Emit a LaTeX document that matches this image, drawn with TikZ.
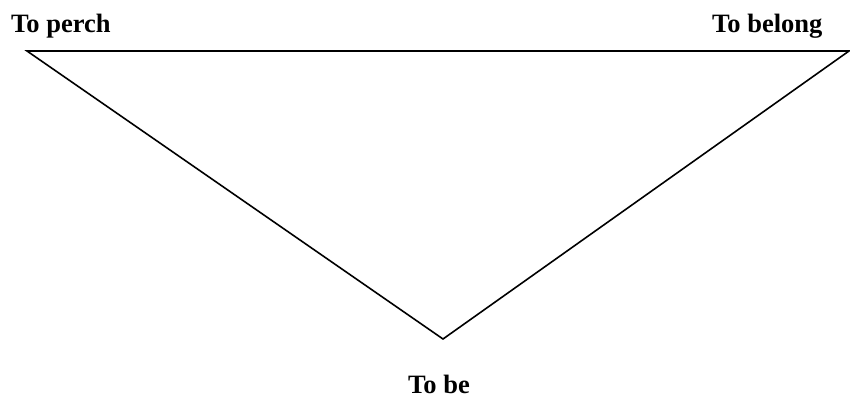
\documentclass[tikz,border=0pt]{standalone}
\usepackage{fontspec}
\setmainfont{Liberation Serif}
\begin{document}
\begin{tikzpicture}[x=1pt,y=-1pt,
  lbl/.style={inner sep=0pt,font=\fontsize{26.5}{29}\selectfont\bfseries},
  edge/.style={line width=1.6pt,line join=miter}]
\useasboundingbox (0,0) rectangle (850,399);
\coordinate (A) at (27,51);
\coordinate (B) at (849,51);
\coordinate (C) at (443,339);
\draw[edge] (A) -- (B) -- (C) -- cycle;
\node[lbl,anchor=base west] (perch) at (11,32) {To perch};
\node[lbl,anchor=base west] (belong) at (712,32) {To belong};
\node[lbl,anchor=base west] (be) at (408,393) {To be};
\end{tikzpicture}
\end{document}
